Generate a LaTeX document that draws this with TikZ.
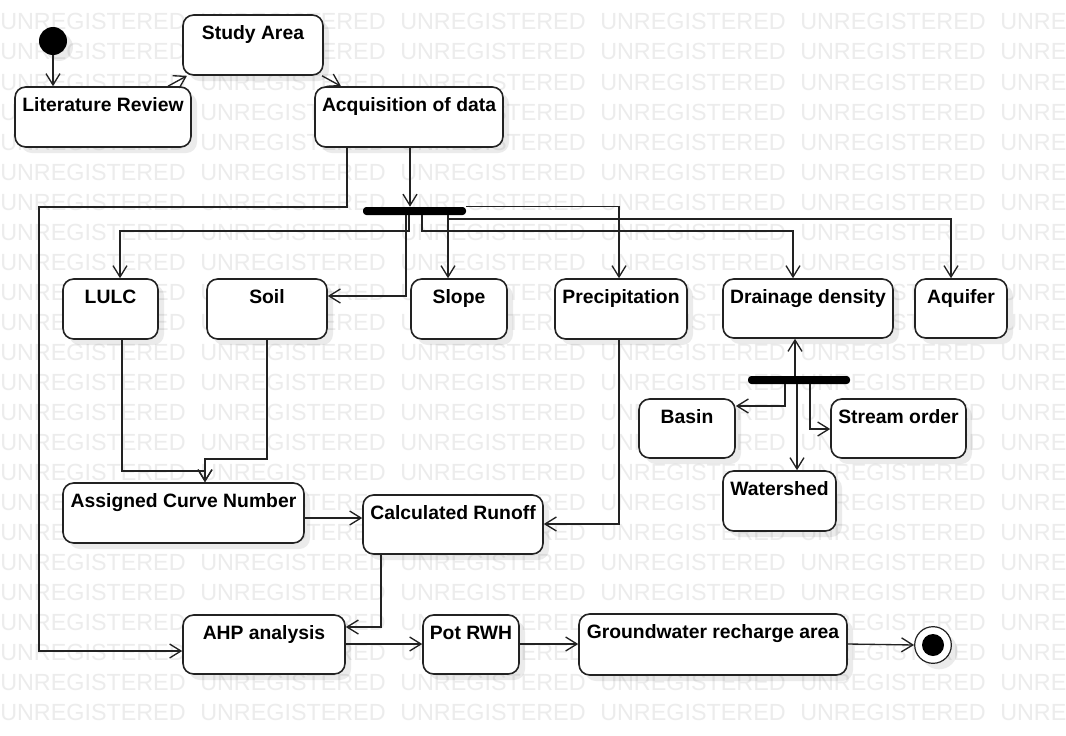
\documentclass[tikz,border=0pt]{standalone}
\usepackage{fontspec}
\setmainfont{Liberation Sans}
\usetikzlibrary{arrows.meta,fit,shadows}
\definecolor{wm}{HTML}{ECECEC}
\definecolor{ln}{HTML}{222222}
\tikzset{
  box/.style={draw=ln, line width=1.2pt, rounded corners=8pt, fill=white, inner sep=0pt,
    drop shadow={shadow xshift=4.5pt, shadow yshift=-4.5pt, opacity=0.08, fill=black}},
  lbl/.style={anchor=base, yshift=-18.75pt, inner sep=0pt, font=\fontsize{14.5pt}{17pt}\selectfont\bfseries},
  conn/.style={draw=ln, line width=1pt, -{Straight Barb[length=8.5pt,width=10.5pt,line width=1pt]}},
  forkbar/.style={fill=black, rounded corners=2.5pt, inner sep=0pt, minimum height=6pt},
  wmtext/.style={anchor=base west, inner sep=0pt, text=wm, font=\fontsize{17.5pt}{20pt}\selectfont}
}
\newcommand\actbox[6]{\node[box, fit={(#2,#3) (#4,#5)}, label={[lbl]north:#6}] (#1) {};}
\begin{document}
\begin{tikzpicture}[x=0.75pt,y=-0.75pt]
\useasboundingbox (0,0) rectangle (1066,735);
\clip (0,0) rectangle (1066,735);
\fill[white] (0,0) rectangle (1066,735);
% watermark
\foreach \r in {1,...,24}{
  \foreach \c in {0,200,400,600,800,1000}{
    \node[wmtext] (wm-\r-\c) at (\c,{30*\r}) {UNREGISTERED};
  }
}
% start and end
\node[circle, fill=black, minimum size=21pt, inner sep=0pt,
  drop shadow={shadow xshift=4.5pt, shadow yshift=-4.5pt, opacity=0.08, fill=black}] (init) at (53,41) {};
\node[circle, draw=ln, line width=0.9pt, fill=white, minimum size=27.5pt, inner sep=0pt,
  drop shadow={shadow xshift=4.5pt, shadow yshift=-4.5pt, opacity=0.08, fill=black},
  path picture={\fill[black] (path picture bounding box.center) circle (8.25pt);}] (final) at (933,645) {};
% boxes
\actbox{lr}{15}{87}{191}{147}{Literature Review}
\actbox{sa}{183}{15}{323}{75}{Study Area}
\actbox{acq}{315}{87}{503}{147}{Acquisition of data}
\actbox{lulc}{63}{279}{158}{339}{LULC}
\actbox{soil}{207}{279}{327}{339}{Soil}
\actbox{slope}{411}{279}{507}{339}{Slope}
\actbox{prec}{555}{279}{687}{339}{Precipitation}
\actbox{dd}{723}{279}{893}{338}{Drainage density}
\actbox{aq}{915}{279}{1007}{338}{Aquifer}
\actbox{basin}{639}{399}{735}{458}{Basin}
\actbox{so}{831}{399}{966}{458}{Stream order}
\actbox{ws}{723}{471}{836}{531}{Watershed}
\actbox{acn}{63}{483}{304}{543}{Assigned Curve Number}
\actbox{cr}{363}{495}{543}{554}{Calculated Runoff}
\actbox{ahp}{183}{615}{345}{674}{AHP analysis}
\actbox{pot}{423}{615}{519}{674}{Pot RWH}
\actbox{gw}{579}{614}{847}{675}{Groundwater recharge area}
% fork bars
\node[forkbar, minimum width=77.25pt] (fork1) at (414.5,211) {};
\node[forkbar, minimum width=76.5pt] (fork2) at (799,380) {};
% connectors
\draw[conn] (init.south) -- (init.south |- lr.north);
\draw[conn] (168,0 |- lr.north) -- (187,0 |- sa.south);
\draw[conn] (322,0 |- sa.south) -- (341,0 |- acq.north);
\draw[conn] (410,0 |- acq.south) -- (410,0 |- fork1.north);
\draw[conn] (347,0 |- acq.south) -- (347,207) -- (39,207) -- (39,651) -- (ahp.west |- 0,651);
\draw[conn] (409,0 |- fork1.south) -- (409,231) -- (120,231) -- (120,0 |- lulc.north);
\draw[conn] (406,0 |- fork1.south) -- (406,296) -- (soil.east |- 0,296);
\draw[conn] (448,0 |- fork1.south) -- (448,0 |- slope.north);
\draw[conn] (448,0 |- fork1.south) -- (448,219) -- (951,219) -- (951,0 |- aq.north);
\draw[conn] (422,0 |- fork1.south) -- (422,231) -- (793,231) -- (793,0 |- dd.north);
\draw[conn] (fork1.north east) -- (619,0 |- fork1.north east) -- (619,0 |- prec.north);
\draw[conn] (795,0 |- fork2.north) -- (795,0 |- dd.south);
\draw[conn] (785,0 |- fork2.south) -- (785,406) -- (basin.east |- 0,406);
\draw[conn] (797,0 |- fork2.south) -- (797,0 |- ws.north);
\draw[conn] (810,0 |- fork2.south) -- (810,429) -- (so.west |- 0,429);
\draw[conn] (122,0 |- lulc.south) -- (122,471) -- (205,471) -- (205,0 |- acn.north);
\draw[conn] (267,0 |- soil.south) -- (267,459) -- (205,459) -- (205,0 |- acn.north);
\draw[conn] (acn.east |- 0,518) -- (cr.west |- 0,518);
\draw[conn] (619,0 |- prec.south) -- (619,524) -- (cr.east |- 0,524);
\draw[conn] (381,0 |- cr.south) -- (381,627) -- (ahp.east |- 0,627);
\draw[conn] (ahp.east |- 0,644) -- (pot.west |- 0,644);
\draw[conn] (pot.east |- 0,644) -- (gw.west |- 0,644);
\draw[conn] (gw.east |- 0,644) -- (final.west);
\end{tikzpicture}
\end{document}
